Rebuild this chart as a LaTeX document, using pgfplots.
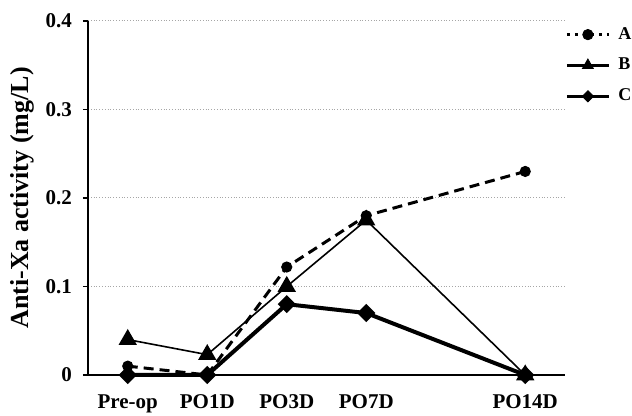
\documentclass[border=0pt]{standalone}
\usepackage{fontspec}
\setmainfont{Liberation Serif}
\usepackage{pgfplots}
\pgfplotsset{compat=1.18}
\begin{document}
\begin{tikzpicture}
\begin{axis}[
  scale only axis,
  width=238.5pt, height=177pt,
  xmin=-0.5, xmax=5.5,
  ymin=0, ymax=0.4,
  xtick={0,1,2,3,5},
  xticklabels={Pre-op,PO1D,PO3D,PO7D,PO14D},
  ytick={0,0.1,0.2,0.3,0.4},
  axis x line=bottom, axis y line=left,
  x axis line style={-, line width=1.1pt},
  y axis line style={-, line width=0.9pt},
  xtick style={draw=none},
  ytick style={line width=0.8pt, black},
  tick align=outside, major tick length=2.5pt,
  ymajorgrids, grid style={gray!70, densely dotted, line width=0.5pt},
  /pgf/number format/assume math mode=true,
  ticklabel style={font=\bfseries\fontsize{10.5}{12}\selectfont},
  yticklabel style={/pgf/number format/fixed, xshift=-2pt},
  xticklabel style={yshift=-4pt},
  ylabel={Anti-Xa activity (mg/L)},
  every axis y label/.style={at={(axis description cs:-0.138,0.5)}, rotate=90, anchor=center, font=\bfseries\fontsize{13}{15}\selectfont},
  clip=false,
  legend style={at={(1.0,0.995)}, anchor=north west, draw=none, fill=none,
    font=\bfseries\fontsize{9}{10}\selectfont, row sep=4pt, inner xsep=0pt, inner ysep=0pt,
    nodes={inner xsep=4pt}},
  legend cell align=left,
]
% C
\addplot[forget plot, line width=2pt, mark=square*, mark size=2.2pt, mark options={rotate=45}]
  coordinates {(0,0)(1,0)(2,0.08)(3,0.07)(5,0)};
% A
\addplot[forget plot, line width=1.5pt, dash pattern=on 5pt off 3pt, mark=*, mark size=2pt, mark options={solid}]
  coordinates {(0,0.01)(1,0)(2,0.122)(3,0.18)(5,0.23)};
% B
\addplot[forget plot, line width=0.8pt, mark=triangle*, mark size=4.5pt]
  coordinates {(0,0.04)(1,0.023)(2,0.1)(3,0.175)(5,0)};

\addlegendimage{legend image code/.code={
  \draw[line width=1.5pt, dash pattern=on 1.5pt off 2.5pt] (0pt,0pt) -- (21pt,0pt);
  \fill (10.5pt,0pt) circle (2.6pt);}}
\addlegendentry{A}
\addlegendimage{legend image code/.code={
  \draw[line width=1.4pt] (0pt,0pt) -- (21pt,0pt);
  \fill (10.5pt,0pt) ++(90:3.2pt) -- ++(-120:5.5pt) -- ++(0:5.5pt) -- cycle;}}
\addlegendentry{B}
\addlegendimage{legend image code/.code={
  \draw[line width=1.4pt] (0pt,0pt) -- (21pt,0pt);
  \fill (10.5pt,2.8pt) -- (13.3pt,0pt) -- (10.5pt,-2.8pt) -- (7.7pt,0pt) -- cycle;}}
\addlegendentry{C}
\end{axis}
\pgfresetboundingbox
\path (-44pt,-20.5pt) rectangle (272pt,187.5pt);
\end{tikzpicture}
\end{document}
